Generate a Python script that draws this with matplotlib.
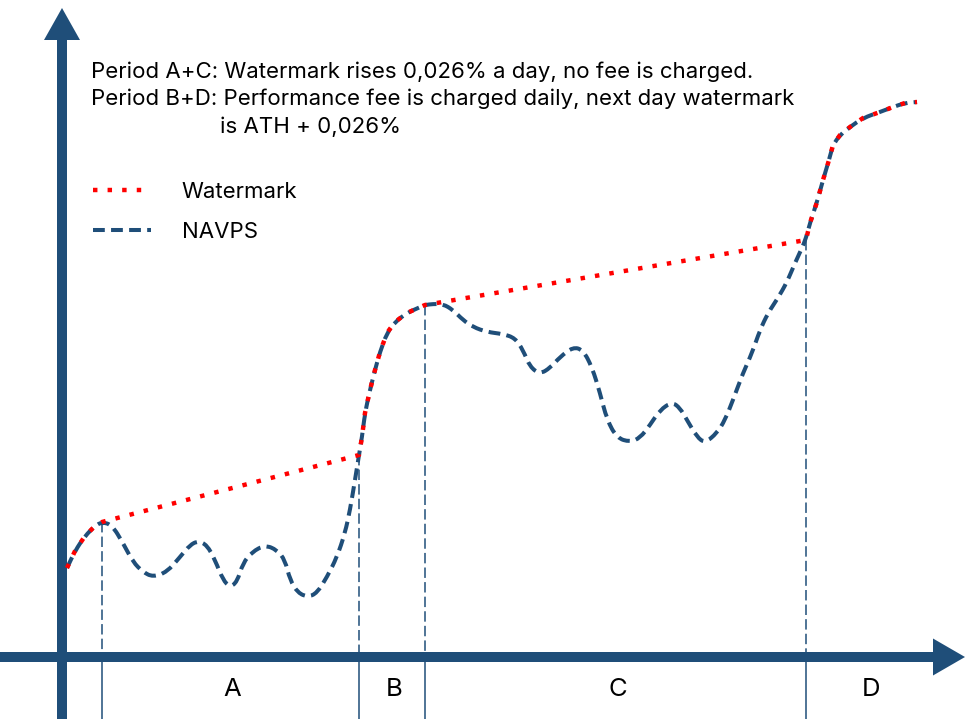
import numpy as np
import matplotlib
matplotlib.use("Agg")
import matplotlib.pyplot as plt
from matplotlib.patches import FancyArrow, PathPatch
from matplotlib.path import Path
from matplotlib.lines import Line2D

plt.rcParams['font.family'] = ['Inter', 'DejaVu Sans']
plt.rcParams['lines.scale_dashes'] = False

NAVY = '#1f4e79'
RED = '#ff0000'

# ---- data (x = time position, y = level measured from top, chart is schematic) ----
nav_x = [67, 75, 85, 95, 102, 112, 123, 133, 143, 153, 167, 180, 190, 198, 207, 215, 223,
         230, 237, 243, 252, 265, 277, 285, 290, 298, 308, 317, 327, 337, 345, 350, 355,
         359, 362, 365, 370, 375, 380, 387, 395, 407, 418, 425, 433, 443, 453, 463, 473,
         487, 503, 515, 523, 530, 540, 550, 560, 573, 583, 592, 600, 607, 617, 630, 640,
         650, 660, 672, 680, 687, 697, 705, 717, 725, 733, 743, 752, 760, 768, 778, 787,
         795, 802, 806, 810, 817, 823, 829, 833, 840, 850, 863, 880, 893, 905, 917]
nav_y = [568, 551, 536, 526, 522, 525, 543, 562, 572, 577, 572, 557, 545, 541, 545, 560, 580,
         587, 582, 563, 552, 545, 550, 560, 580, 593, 597, 593, 577, 557, 533, 510, 480,
         455, 437, 413, 390, 370, 352, 333, 322, 313, 308, 305, 304, 304, 310, 320, 327,
         332, 334, 338, 350, 367, 374, 368, 357, 347, 350, 367, 393, 420, 438, 442, 438,
         425, 410, 402, 408, 420, 437, 443, 433, 420, 400, 373, 353, 330, 313, 298, 282,
         263, 248, 238, 223, 202, 180, 160, 145, 135, 127, 118, 112, 107, 103, 102]

wm_x = [67, 75, 85, 95, 102, 359, 362, 365, 370, 375, 380, 387, 395, 407, 418, 425,
        806, 810, 817, 823, 829, 833, 840, 850, 863, 880, 893, 905, 917]
wm_y = [568, 551, 536, 526, 522, 455, 437, 413, 390, 370, 352, 333, 322, 313, 308, 305,
        240, 223, 202, 180, 160, 145, 135, 127, 118, 112, 107, 103, 102]

period_names = ['A', 'B', 'C', 'D']
period_bounds = [102, 359, 425, 806, 933]
period_tops = [522, 455, 305, 240]

header_1 = "Period A+C: Watermark rises 0,026% a day, no fee is charged."
header_2 = "Period B+D: Performance fee is charged daily, next day watermark"
header_3 = "is ATH + 0,026%"

W, H = 971, 719
x_axis_level = 657
y_axis_pos = 62
FS = 16
NAV_DASH = (8.5, 4.5)
WM_DASH = (3.2, 7.3)

fig = plt.figure(figsize=(9.71, 7.19), dpi=100)
ax = fig.add_axes([0, 0, 1, 1])
ax.set_xlim(0, W)
ax.set_ylim(H, 0)
ax.axis('off')

# period boundary lines
ax.vlines(period_bounds[:4], period_tops, x_axis_level, colors=NAVY, lw=1.1,
          linestyles=(0, (7.5, 3.0)), zorder=1)
ax.vlines(period_bounds[:4], x_axis_level, H, colors=NAVY, lw=1.1, zorder=1)

# axes arrows
ax.add_patch(FancyArrow(y_axis_pos, H, 0, -(H - 8), width=10, head_width=36,
                        head_length=32, length_includes_head=True,
                        color=NAVY, lw=0, zorder=2))
ax.add_patch(FancyArrow(0, x_axis_level, 965, 0, width=10, head_width=37,
                        head_length=32, length_includes_head=True,
                        color=NAVY, lw=0, zorder=2))

# NAVPS as a smooth quadratic-Bezier path through the read points
pts = np.column_stack([nav_x, nav_y]).astype(float)
verts = [pts[0], (pts[0] + pts[1]) / 2]
codes = [Path.MOVETO, Path.LINETO]
for i in range(1, len(pts) - 1):
    verts += [pts[i], (pts[i] + pts[i + 1]) / 2]
    codes += [Path.CURVE3, Path.CURVE3]
verts.append(pts[-1])
codes.append(Path.LINETO)
nav_patch = PathPatch(Path(verts, codes), fill=False, edgecolor=NAVY, lw=2.9,
                      linestyle=(0, NAV_DASH), capstyle='butt', zorder=3)
ax.add_patch(nav_patch)

wm_line, = ax.plot(wm_x, wm_y, color=RED, lw=3.2, dashes=WM_DASH,
                   dash_capstyle='butt', zorder=4, label='Watermark')
nav_handle = Line2D([], [], color=NAVY, lw=2.9, dashes=NAV_DASH,
                    dash_capstyle='butt', label='NAVPS')

# period labels
for i, name in enumerate(period_names):
    xc = (period_bounds[i] + period_bounds[i + 1]) / 2
    ax.text(xc + 2, 690, name, ha='center', va='center', fontsize=18.5, color='black')

# header texts
ax.text(91, 72, header_1, ha='left', va='center', fontsize=FS, color='black')
ax.text(91, 99, header_2, ha='left', va='center', fontsize=FS, color='black')
ax.text(220, 127, header_3, ha='left', va='center', fontsize=FS, color='black')

# legend
leg = ax.legend(handles=[wm_line, nav_handle], loc='upper left',
                bbox_to_anchor=(93 / W, 1 - 182 / H), frameon=False,
                fontsize=FS, handlelength=2.6, handletextpad=1.4,
                borderpad=0, borderaxespad=0, labelspacing=0.9)

fig.savefig('out.png', dpi=100)
